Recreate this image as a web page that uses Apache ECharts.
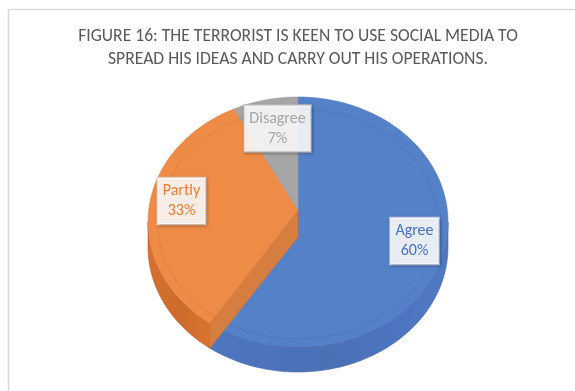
<!DOCTYPE html>
<html>
<head>
<meta charset="utf-8">
<script src="https://cdn.jsdelivr.net/npm/echarts@6/dist/echarts.min.js"></script>
<style>
  html, body { margin: 0; padding: 0; background: #ffffff; }
  #chart { width: 575px; height: 391px; }
</style>
</head>
<body>
<div id="chart"></div>
<script>
// ---- chart data ----
const titleText = 'FIGURE 16: THE TERRORIST IS KEEN TO USE SOCIAL MEDIA TO\nSPREAD HIS IDEAS AND CARRY OUT HIS OPERATIONS.';
const categories = ['Agree', 'Partly', 'Disagree'];
const shares = [60, 33, 7];

// ---- styling ----
const topColors = ['#5581C9', '#EE8B47', '#A6A6A6'];
const sideColors = ['#4A70B6', '#CB6B2C', '#8E8E8E'];
const labelColors = ['#4472C4', '#ED7D31', '#A5A5A5'];
const labelBorders = ['rgba(215,222,238,0.95)', 'rgba(240,215,200,0.95)', 'rgba(190,190,190,0.95)'];
const labelBoxes = [[414.5, 241], [181.5, 201], [277.5, 128.5]];
const FONT = "Carlito, 'Liberation Sans Narrow', 'Liberation Sans', sans-serif";

// tilted pie geometry (pixels)
const PIE = { cx: 298, cy: 222, rx: 150, ry: 125, depth: 25, hubUp: 12, hubDown: 14 };

const total = shares.reduce((a, b) => a + b, 0);
// start / end angle of each slice, degrees clockwise from 12 o'clock
const spans = [];
let acc = 0;
shares.forEach(v => {
  const s = acc / total * 360;
  acc += v;
  spans.push([s, acc / total * 360]);
});

// scale a hex colour's channels (f < 1 darkens)
function shade(hex, f) {
  const n = parseInt(hex.slice(1), 16);
  const c = [(n >> 16) & 255, (n >> 8) & 255, n & 255].map(v => Math.max(0, Math.min(255, Math.round(v * f))));
  return 'rgb(' + c.join(',') + ')';
}

function rim(deg, drop) {
  const r = deg * Math.PI / 180;
  return [PIE.cx + PIE.rx * Math.sin(r), PIE.cy - PIE.ry * Math.cos(r) + (drop || 0)];
}
function arc(a, b, drop, rx, ry) {
  const pts = [];
  const n = Math.max(2, Math.ceil(Math.abs(b - a) / 2));
  for (let i = 0; i <= n; i++) {
    const d = (a + (b - a) * i / n) * Math.PI / 180;
    pts.push([PIE.cx + (rx || PIE.rx) * Math.sin(d), PIE.cy - (ry || PIE.ry) * Math.cos(d) + (drop || 0)]);
  }
  return pts;
}

function renderSlice(params, api) {
  const i = params.dataIndex;
  const [s, e] = spans[i];
  const children = [];
  const isFront = s <= 180 && e >= 180;
  const hub = [PIE.cx, PIE.cy + (isFront ? PIE.hubDown : -PIE.hubUp)];

  // outer side wall on the near half of the rim
  const lo = Math.max(s, 90), hi = Math.min(e, 270);
  if (hi > lo) {
    const pts = arc(lo, hi, 0).concat(arc(hi, lo, PIE.depth));
    children.push({
      type: 'polygon', z2: 1,
      shape: { points: pts },
      style: {
        fill: new echarts.graphic.LinearGradient(0, 0, 1, 0, [
          { offset: 0, color: shade(sideColors[i], 1.06) },
          { offset: 0.5, color: sideColors[i] },
          { offset: 1, color: shade(sideColors[i], 1.08) }
        ]),
        stroke: shade(sideColors[i], 0.9), lineWidth: 0.6
      }
    });
  }

  // radial cut face showing at the slice's leading edge
  if (!isFront && s > 90 && s < 270) {
    const p = rim(s, 0);
    children.push({
      type: 'polygon', z2: 3,
      shape: { points: [hub, p, [p[0], p[1] + PIE.depth], [hub[0], hub[1] + PIE.depth + 2]] },
      style: { fill: shade(topColors[i], 0.9), stroke: shade(topColors[i], 0.84), lineWidth: 0.8 }
    });
  }

  // top face
  children.push({
    type: 'polygon', z2: isFront ? 2 : 4,
    shape: { points: [hub].concat(arc(s, e, 0)) },
    style: { fill: topColors[i], stroke: shade(topColors[i], 0.94), lineWidth: 0.6 }
  });
  // faint bevel line inside the rim
  children.push({
    type: 'polyline', z2: isFront ? 2 : 4, silent: true,
    shape: { points: arc(s, e, 2, PIE.rx - 10, PIE.ry - 10) },
    style: { fill: null, stroke: 'rgba(0,0,0,0.06)', lineWidth: 1 }
  });

  // value label
  const pct = Math.round(api.value(0) / total * 100);
  children.push({
    type: 'text', z2: 10,
    x: labelBoxes[i][0], y: labelBoxes[i][1],
    style: {
      text: categories[i] + '\n' + pct + '%',
      align: 'center', verticalAlign: 'middle',
      font: '16px ' + FONT, lineHeight: 20,
      fill: labelColors[i],
      backgroundColor: 'rgba(255,255,255,0.88)',
      borderColor: labelBorders[i], borderWidth: 1.2,
      padding: [3, 5, 3, 5],
      shadowColor: 'rgba(0,0,0,0.25)', shadowBlur: 3, shadowOffsetX: 1, shadowOffsetY: 1
    }
  });

  return { type: 'group', children };
}

const chart = echarts.init(document.getElementById('chart'), null, { renderer: 'canvas' });
chart.setOption({
  backgroundColor: '#ffffff',
  animation: false,
  title: {
    text: titleText,
    left: 298, top: 25, textAlign: 'center', padding: 0,
    textStyle: { fontFamily: FONT, fontSize: 17.6, fontWeight: 'normal', color: '#595959', lineHeight: 23 }
  },
  graphic: [{
    type: 'rect', silent: true, z: -1,
    shape: { x: 8.5, y: 9.5, width: 620, height: 420 },
    style: { fill: null, stroke: '#D9D9D9', lineWidth: 1.5 }
  }],
  series: [{
    type: 'custom',
    coordinateSystem: 'none',
    renderItem: renderSlice,
    data: shares.map((v, i) => ({ name: categories[i], value: [v] }))
  }]
});
</script>
</body>
</html>
